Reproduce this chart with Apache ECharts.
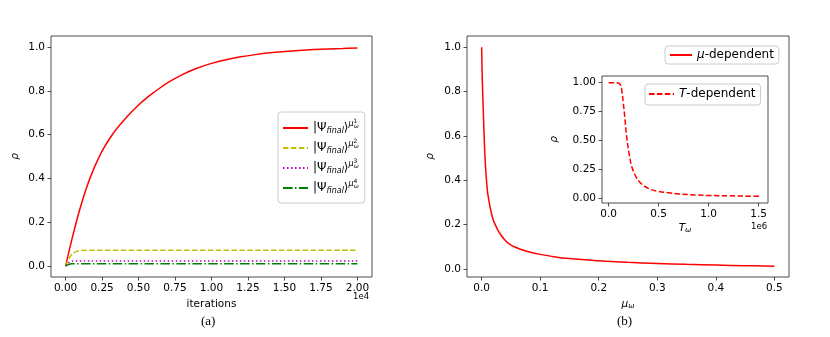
<!DOCTYPE html>
<html>
<head>
<meta charset="utf-8">
<script src="https://cdn.jsdelivr.net/npm/echarts@6/dist/echarts.min.js"></script>
<style>
  html, body { margin: 0; padding: 0; background: #fff; }
  #main { width: 830px; height: 337px; }
</style>
</head>
<body>
<div id="main"></div>
<script>
// (a) rho against iterations
var iterRed = [0, 500, 1000, 1500, 2000, 2500, 3000, 3500, 4000, 4500, 5000, 5500, 6000, 7000, 8000, 9000, 10000, 11000, 12000, 13000, 14000, 15000, 16000, 17000, 18000, 19000, 20000];
var rhoMu1 = [0, 0.14, 0.265, 0.37, 0.455, 0.525, 0.58, 0.627, 0.666, 0.702, 0.735, 0.764, 0.79, 0.837, 0.874, 0.903, 0.925, 0.942, 0.955, 0.965, 0.973, 0.979, 0.984, 0.988, 0.991, 0.993, 0.995];
var iterLow = [0, 200, 400, 600, 800, 1000, 1500, 2000, 20000];
var rhoMu2 = [0, 0.03, 0.05, 0.062, 0.068, 0.071, 0.072, 0.072, 0.072];
var rhoMu3 = [0, 0.015, 0.021, 0.023, 0.023, 0.023, 0.023, 0.023, 0.023];
var rhoMu4 = [0, 0.007, 0.011, 0.011, 0.011, 0.011, 0.011, 0.011, 0.011];

// (b) rho against mu_omega
var muX = [0, 0.001, 0.002, 0.003, 0.004, 0.006, 0.008, 0.01, 0.013, 0.016, 0.02, 0.025, 0.03, 0.04, 0.05, 0.06, 0.07, 0.08, 0.1, 0.12, 0.15, 0.2, 0.25, 0.3, 0.35, 0.4, 0.45, 0.5];
var rhoMu = [1.0, 0.87, 0.78, 0.70, 0.62, 0.49, 0.41, 0.35, 0.30, 0.26, 0.22, 0.19, 0.165, 0.13, 0.108, 0.096, 0.086, 0.078, 0.066, 0.057, 0.047, 0.037, 0.030, 0.025, 0.021, 0.018, 0.015, 0.013];

// (b) inset: rho against T_omega
var tX = [0, 50000, 100000, 120000, 130000, 147000, 164000, 180000, 204000, 230000, 260000, 280000, 320000, 364000, 420000, 500000, 600000, 700000, 880000, 1000000, 1200000, 1400000, 1510000];
var rhoT = [1.0, 1.0, 0.995, 0.98, 0.943, 0.826, 0.68, 0.537, 0.39, 0.276, 0.21, 0.174, 0.13, 0.10, 0.075, 0.058, 0.045, 0.035, 0.026, 0.022, 0.019, 0.016, 0.015];

var tickA_x = [0, 2500, 5000, 7500, 10000, 12500, 15000, 17500, 20000];
var tickA_y = [0, 0.2, 0.4, 0.6, 0.8, 1.0];
var tickB_x = [0, 0.1, 0.2, 0.3, 0.4, 0.5];
var tickB_y = [0, 0.2, 0.4, 0.6, 0.8, 1.0];
var tickI_x = [0, 500000, 1000000, 1500000];
var tickI_y = [0, 0.25, 0.5, 0.75, 1.0];

function pairs(xs, ys) {
    return xs.map(function (x, i) { return [x, ys[i]]; });
}

var FONT = 'DejaVu Sans';
var rich = {
    n: { fontFamily: FONT, fontSize: 12, color: '#000' },
    i: { fontFamily: FONT, fontSize: 12, color: '#000', fontStyle: 'italic' },
    sub: { fontFamily: FONT, fontSize: 8, color: '#000', fontStyle: 'italic', padding: [6, 0, 0, 0] },
    sup: { fontFamily: FONT, fontSize: 8, color: '#000', fontStyle: 'italic', padding: [0, 0, 9, 0] },
    supn: { fontFamily: FONT, fontSize: 6, color: '#000', width: 0.1, padding: [0, 0, 14, 0] },
    supsub: { fontFamily: FONT, fontSize: 6, color: '#000', fontStyle: 'italic', padding: [0, 0, 4, 0] },
    ax: { fontFamily: FONT, fontSize: 10.5, color: '#000', fontStyle: 'italic' },
    s: { fontFamily: FONT, fontSize: 7.5, color: '#000', fontStyle: 'italic', padding: [4, 0, 0, 0] }
};

var labelsA = {
    mu1: '{n||Ψ}{sub|final}{n|⟩}{sup|μ}{supn|1}{supsub|ω}',
    mu2: '{n||Ψ}{sub|final}{n|⟩}{sup|μ}{supn|2}{supsub|ω}',
    mu3: '{n||Ψ}{sub|final}{n|⟩}{sup|μ}{supn|3}{supsub|ω}',
    mu4: '{n||Ψ}{sub|final}{n|⟩}{sup|μ}{supn|4}{supsub|ω}',
    mudep: '{i|μ}{n|-dependent}',
    tdep: '{i|T}{n|-dependent}'
};

function valueAxis(idx, min, max, ticks, fmt, name, extra) {
    var ax = {
        type: 'value',
        gridIndex: idx,
        min: min,
        max: max,
        splitLine: { show: false },
        axisLine: { show: false, onZero: false },
        axisTick: { show: true, length: 3.5, customValues: ticks, lineStyle: { color: '#222', width: 0.8 } },
        axisLabel: { customValues: ticks, formatter: fmt, margin: 6, fontFamily: FONT, fontSize: 10.5, color: '#000' },
        name: name,
        nameLocation: 'middle',
        nameTextStyle: { fontFamily: FONT, fontSize: 10.5, color: '#000', rich: rich }
    };
    for (var k in extra) ax[k] = extra[k];
    return ax;
}

var gridBase = { show: true, borderColor: '#222', borderWidth: 0.8, backgroundColor: '#fff' };

function legendBox(names, left, top, w, pad, gap) {
    return {
        data: names,
        orient: 'vertical', left: left, top: top,
        itemWidth: w, itemHeight: 8, itemGap: gap,
        padding: pad,
        backgroundColor: '#fff', borderColor: '#ccc', borderWidth: 1, borderRadius: 3,
        itemStyle: { opacity: 0 },
        formatter: function (nm) { return labelsA[nm]; },
        textStyle: { rich: rich },
        z: 8
    };
}

var option = {
    backgroundColor: '#fff',
    animation: false,
    grid: [
        Object.assign({ left: 51, top: 36, width: 321, height: 241 }, gridBase),
        Object.assign({ left: 467, top: 36, width: 322, height: 241 }, gridBase),
        Object.assign({ left: 602, top: 76, width: 166, height: 127, z: 5 }, gridBase)
    ],
    xAxis: [
        valueAxis(0, -1000, 21000, tickA_x, function (v) { return (v / 1e4).toFixed(2); }, 'iterations', { nameGap: 19 }),
        valueAxis(1, -0.025, 0.525, tickB_x, function (v) { return v.toFixed(1); }, '{ax|μ}{s|ω}', { nameGap: 20 }),
        valueAxis(2, -66000, 1594000, tickI_x, function (v) { return (v / 1e6).toFixed(1); }, '{ax|T}{s|ω}', { nameGap: 19, z: 6 })
    ],
    yAxis: [
        valueAxis(0, -0.05, 1.05, tickA_y, function (v) { return v.toFixed(1); }, '{ax|ρ}', { nameGap: 30, nameRotate: 90 }),
        valueAxis(1, -0.036, 1.051, tickB_y, function (v) { return v.toFixed(1); }, '{ax|ρ}', { nameGap: 31, nameRotate: 90 }),
        valueAxis(2, -0.043, 1.058, tickI_y, function (v) { return v.toFixed(2); }, '{ax|ρ}', { nameGap: 42, nameRotate: 90, z: 6 })
    ],
    legend: [
        legendBox(['mu1', 'mu2', 'mu3', 'mu4'], 278, 112, 25, [6, 6, 8, 4], 3),
        legendBox(['mudep'], 665, 46, 22, [3, 5, 3, 4], 0),
        legendBox(['tdep'], 645, 84, 25, [4, 5, 5, 3], 0)
    ],
    graphic: [
        { type: 'text', left: 353, top: 292, style: { text: '1e4', font: '8.5px "DejaVu Sans"', fill: '#000' } },
        { type: 'text', left: 751, top: 222, z: 10, style: { text: '1e6', font: '8.5px "DejaVu Sans"', fill: '#000' } },
        { type: 'text', left: 201, top: 315, style: { text: '(a)', font: '13px "Liberation Serif"', fill: '#000' } },
        { type: 'text', left: 617, top: 315, style: { text: '(b)', font: '13px "Liberation Serif"', fill: '#000' } }
    ],
    series: [
        { name: 'mu1', type: 'line', xAxisIndex: 0, yAxisIndex: 0, symbol: 'none', data: pairs(iterRed, rhoMu1), smooth: 0.4,
          lineStyle: { color: '#ff0000', width: 1.5 }, itemStyle: { color: '#ff0000' } },
        { name: 'mu2', type: 'line', xAxisIndex: 0, yAxisIndex: 0, symbol: 'none', data: pairs(iterLow, rhoMu2), smooth: 0.4,
          lineStyle: { color: '#bfbf00', width: 1.5, type: [5.5, 2.4] }, itemStyle: { color: '#bfbf00' } },
        { name: 'mu3', type: 'line', xAxisIndex: 0, yAxisIndex: 0, symbol: 'none', data: pairs(iterLow, rhoMu3), smooth: 0.4,
          lineStyle: { color: '#bf00bf', width: 1.5, type: [1.5, 2.5] }, itemStyle: { color: '#bf00bf' } },
        { name: 'mu4', type: 'line', xAxisIndex: 0, yAxisIndex: 0, symbol: 'none', data: pairs(iterLow, rhoMu4), smooth: 0.4,
          lineStyle: { color: '#008000', width: 1.5, type: [9.6, 2.4, 1.5, 2.4] }, itemStyle: { color: '#008000' } },
        { name: 'mudep', type: 'line', xAxisIndex: 1, yAxisIndex: 1, symbol: 'none', data: pairs(muX, rhoMu), smooth: 0.4,
          lineStyle: { color: '#ff0000', width: 1.5 }, itemStyle: { color: '#ff0000' } },
        { name: 'tdep', type: 'line', xAxisIndex: 2, yAxisIndex: 2, symbol: 'none', data: pairs(tX, rhoT), smooth: 0.4, z: 7,
          lineStyle: { color: '#ff0000', width: 1.5, type: [5.5, 2.4] }, itemStyle: { color: '#ff0000' } }
    ]
};

var myChart = echarts.init(document.getElementById('main'));
myChart.setOption(option);
</script>
</body>
</html>
